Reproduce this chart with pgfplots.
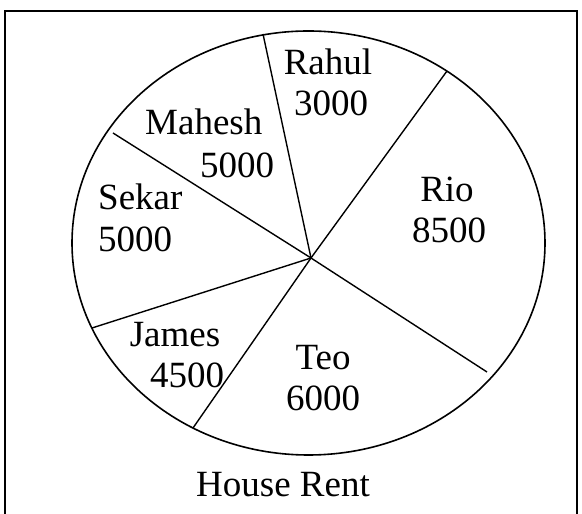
\documentclass[border=0pt]{standalone}
\usepackage{pgfplots}
\pgfplotsset{compat=1.18}
\usepackage{fontspec}
\setmainfont{Liberation Serif}
\tikzset{lbl/.style={font=\fontsize{37}{44}\selectfont, inner sep=0pt, anchor=base},
         lblw/.style={lbl, anchor=base west}}
\begin{document}
\begin{tikzpicture}
\begin{axis}[name=ax,
  width=582pt, height=514pt, scale only axis,
  xmin=0, xmax=582, ymin=0, ymax=514,
  hide axis, clip=true]
% frame
\addplot[black, line width=2pt] coordinates {(5,-20) (5,503) (577,503) (577,-20)};
% pie outline
\draw[black, line width=1.6pt] (axis cs:308.5,271) ellipse [x radius=236.5, y radius=212];
% slice boundaries (centre -> rim)
\addplot[black, line width=1.4pt] coordinates {(311,256) (263,480)};
\addplot[black, line width=1.4pt] coordinates {(311,256) (447,443)};
\addplot[black, line width=1.4pt] coordinates {(311,256) (487,142)};
\addplot[black, line width=1.4pt] coordinates {(311,256) (193,86)};
\addplot[black, line width=1.4pt] coordinates {(311,256) (92,186)};
\addplot[black, line width=1.4pt] coordinates {(311,256) (113,381)};
% labels
\node[lbl] at (axis cs:328,439) {Rahul};
\node[lbl] at (axis cs:331,398) {3000};
\node[lbl] at (axis cs:447,312) {Rio};
\node[lbl] at (axis cs:449,271) {8500};
\node[lblw] at (axis cs:145,379) {Mahesh};
\node[lblw] at (axis cs:200,336) {5000};
\node[lblw] at (axis cs:98,304) {Sekar};
\node[lblw] at (axis cs:98,262) {5000};
\node[lbl] at (axis cs:175,167) {James};
\node[lblw] at (axis cs:150,126) {4500};
\node[lbl] at (axis cs:323,144) {Teo};
\node[lbl] at (axis cs:323,103) {6000};
\node[lbl] at (axis cs:283,17) {House Rent};
\end{axis}
\pgfresetboundingbox
\path (ax.south west) rectangle (ax.north east);
\end{tikzpicture}
\end{document}
